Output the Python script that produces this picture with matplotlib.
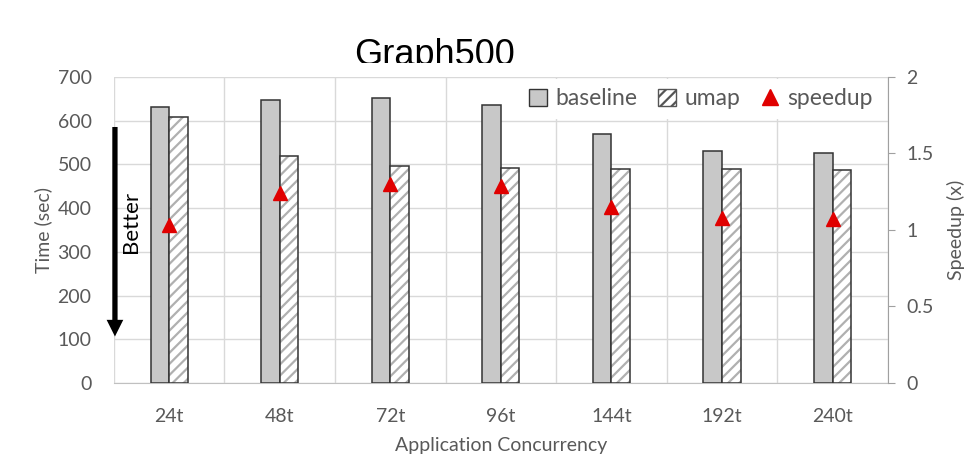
import matplotlib.pyplot as plt
import matplotlib.patches as mpatches
from matplotlib.lines import Line2D
import numpy as np

plt.rcParams['font.family'] = ['Lato', 'DejaVu Sans']
plt.rcParams['hatch.linewidth'] = 1.6

# data
cats = ['24t', '48t', '72t', '96t', '144t', '192t', '240t']
baseline = [631, 648, 651, 637, 570, 531, 525]
umap = [609, 519, 497, 492, 490, 489, 487]
speedup = [1.03, 1.24, 1.30, 1.29, 1.15, 1.08, 1.07]

grey = '#595959'
x = np.arange(len(cats))
w = 0.168

fig = plt.figure(figsize=(9.73, 4.63), dpi=100)
ax = fig.add_axes([0.117, 0.1728, 0.7956, 0.6609])

ax.bar(x - w / 2, baseline, w, color='#c8c8c8', edgecolor='#333333', lw=1.1, zorder=3)
# umap bars: grey hatch first, then black outline on top
ax.bar(x + w / 2, umap, w, color='white', edgecolor='#b0b0b0', hatch='///', lw=0, zorder=3)
ax.bar(x + w / 2, umap, w, color='none', edgecolor='#333333', lw=1.1, zorder=4)

ax.set_xlim(-0.5, len(cats) - 0.5)
ax.set_ylim(0, 700)
ax.set_yticks(range(0, 701, 100))
ax.set_xticks(x)
ax.set_xticklabels(cats)
ax.set_xticks(np.arange(-0.5, len(cats), 1), minor=True)
ax.grid(axis='y', color='#d9d9d9', lw=1, zorder=0)
ax.grid(axis='x', which='minor', color='#d9d9d9', lw=1, zorder=0)
ax.tick_params(axis='both', which='both', length=0, colors=grey, labelsize=14)
ax.tick_params(axis='y', pad=16)
ax.tick_params(axis='x', pad=18)
for s in ['top', 'right', 'left']:
    ax.spines[s].set_visible(False)
ax.spines['bottom'].set_color('#c0c0c0')
ax.set_ylabel('Time (sec)', color=grey, fontsize=14, labelpad=4)
ax.set_xlabel('Application Concurrency', color=grey, fontsize=14, labelpad=9)

ax2 = ax.twinx()
ax2.plot(x, speedup, '^', color='#e00000', ms=10, zorder=5)
ax2.set_ylim(0, 2)
ax2.set_yticks([0, 0.5, 1, 1.5, 2])
ax2.set_yticklabels(['0', '0.5', '1', '1.5', '2'])
ax2.tick_params(axis='y', colors=grey, labelsize=14, length=5, pad=8)
ax2.tick_params(axis='y', color='#a0a0a0')
for s in ['top', 'left', 'bottom']:
    ax2.spines[s].set_visible(False)
ax2.spines['right'].set_color('#a0a0a0')
ax2.set_ylabel('Speedup (x)', color=grey, fontsize=14, labelpad=10)

# legend
h1 = mpatches.Patch(facecolor='#c8c8c8', edgecolor='#333333', lw=1)
h2 = mpatches.Patch(facecolor='white', edgecolor='#555555', hatch='///', lw=1)
h3 = Line2D([], [], ls='none', marker='^', color='#e00000', ms=11)
leg = ax2.legend([h1, h2, h3], ['baseline', 'umap', 'speedup'], ncol=3,
                 loc='upper right', bbox_to_anchor=(0.995, 1.0), frameon=True,
                 fontsize=16.5, handlelength=0.8, handleheight=0.8,
                 handletextpad=0.35, columnspacing=0.9, borderaxespad=0.1)
leg.get_frame().set_edgecolor('none')
leg.get_frame().set_facecolor('white')
leg.get_frame().set_alpha(1)
for t in leg.get_texts():
    t.set_color(grey)

# "Better" arrow
arrow = mpatches.FancyArrowPatch((-0.49, 592), (-0.49, 100),
                                 arrowstyle='simple,tail_width=0.38,head_width=1.2,head_length=1.2',
                                 mutation_scale=10, color='black', lw=0, zorder=6,
                                 clip_on=False)
ax.add_patch(arrow)
ax.text(-0.346, 368, 'Better', rotation=90, ha='center', va='center',
        fontsize=16, color='black', zorder=6)

# title, bottom clipped like in the reference
fig.text(0.447, 0.860, 'Graph500', ha='center', va='baseline',
         fontsize=26, color='black', family=['Liberation Sans', 'DejaVu Sans'])
fig.patches.append(mpatches.Rectangle((0.3, 0.835), 0.3, 0.03, transform=fig.transFigure,
                                      facecolor='white', edgecolor='none', zorder=10))

fig.savefig('out.png', dpi=100)
